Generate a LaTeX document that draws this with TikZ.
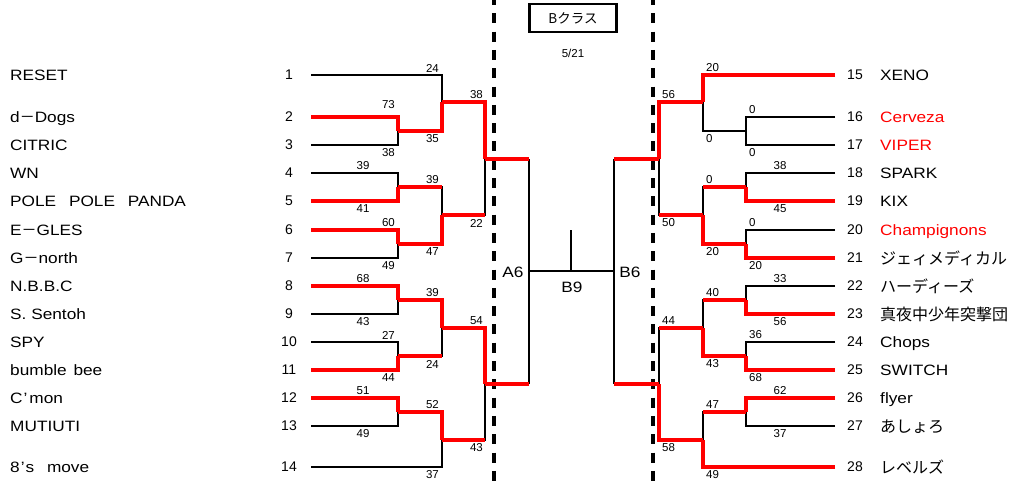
\documentclass[tikz,border=0pt]{standalone}
\usepackage{fontspec}
\setmainfont{Liberation Sans}
\newfontfamily\jpf{Noto Sans CJK JP}
\newfontfamily\nmf[FakeStretch=1.15]{Liberation Sans}
\definecolor{wred}{RGB}{255,0,0}
\tikzset{
  lose/.style={black, line width=2pt},
  win/.style={wred, line width=3.2pt, line cap=square},
  sc/.style={font=\fontsize{11.5}{11.5}\selectfont, inner sep=0pt},
  tnum/.style={font=\fontsize{14}{14}\selectfont, inner sep=0pt},
  tname/.style={font=\nmf\fontsize{15}{15}\selectfont, inner sep=0pt, anchor=west, text height=12pt, text depth=1pt},
  jname/.style={font=\jpf\fontsize{16}{16}\selectfont, inner sep=0pt, anchor=west, text height=13pt, text depth=1pt},
  dline/.style={line width=3.5pt, dash pattern=on 10pt off 8.3pt},
}
\begin{document}
\begin{tikzpicture}[x=1pt,y=-1pt]
\useasboundingbox (0,0) rectangle (1012,482);
\clip (0,0) rectangle (1012,482);
\fill[white] (0,0) rectangle (1012,482);

% dashed separators
\coordinate (dl1) at (494,-5); \coordinate (dl2) at (494,490);
\coordinate (dr1) at (653,-5); \coordinate (dr2) at (653,490);
\draw[dline] (dl1) -- (dl2);
\draw[dline] (dr1) -- (dr2);

% title
\node[draw, line width=2.2pt, minimum width=87pt, minimum height=28pt, inner sep=0pt,
      font=\jpf\fontsize{13.5}{13.5}\selectfont] (title) at (573,18) {Bクラス};
\node[sc] (date) at (573,53) {5/21};

% team line ends
\foreach \i/\y in {1/75,2/117,3/145,4/173,5/201,6/230,7/258,8/286,9/314,10/342,11/370,12/398,13/426,14/467}{
  \coordinate (t\i) at (311,\y);
  \node[tnum] (n\i) at (289,\y) {\i};
}
\foreach \i/\y in {15/75,16/117,17/145,18/173,19/201,20/230,21/258,22/286,23/314,24/342,25/370,26/398,27/426,28/467}{
  \coordinate (t\i) at (835,\y);
  \node[tnum] (n\i) at (855,\y) {\i};
}

% left names
\node[tname] (p1) at (10,75) {RESET};
\node[tname] (p2) at (10,117) {d{\jpf －}Dogs};
\node[tname] (p3) at (10,145) {CITRIC};
\node[tname] (p4) at (10,173) {WN};
\node[tname] (p5) at (10,201) {POLE\hspace{8pt} POLE\hspace{8pt} PANDA};
\node[tname] (p6) at (10,230) {E{\jpf －}GLES};
\node[tname] (p7) at (10,258) {G{\jpf －}north};
\node[tname] (p8) at (10,286) {N.B.B.C};
\node[tname] (p9) at (10,314) {S. Sentoh};
\node[tname] (p10) at (10,342) {SPY};
\node[tname] (p11) at (10,370) {bumble\hspace{2pt} bee};
\node[tname] (p12) at (10,398) {C\hspace{1pt}’\hspace{2pt}mon};
\node[tname] (p13) at (10,426) {MUTIUTI};
\node[tname] (p14) at (10,467) {8\hspace{1pt}’\hspace{1pt}s\hspace{8pt} move};

% right names
\node[tname] (p15) at (880,75) {XENO};
\node[tname, text=wred] (p16) at (880,117) {Cerveza};
\node[tname, text=wred] (p17) at (880,145) {VIPER};
\node[tname] (p18) at (880,173) {SPARK};
\node[tname] (p19) at (880,201) {KIX};
\node[tname, text=wred] (p20) at (880,230) {Champignons};
\node[jname] (p21) at (880,258) {ジェィメディカル};
\node[jname] (p22) at (880,286) {ハーディーズ};
\node[jname] (p23) at (880,314) {真夜中少年突撃団};
\node[tname] (p24) at (880,342) {Chops};
\node[tname] (p25) at (880,370) {SWITCH};
\node[tname] (p26) at (880,398) {flyer};
\node[jname] (p27) at (880,426) {あしょろ};
\node[jname] (p28) at (880,467) {レベルズ};

% match points left
\coordinate (m23) at (398,131);
\coordinate (m13) at (442,102);
\coordinate (m45) at (398,187);
\coordinate (m67) at (398,244);
\coordinate (m47) at (442,215);
\coordinate (mLt) at (485,159);
\coordinate (m89) at (398,300);
\coordinate (m1011) at (398,356);
\coordinate (m811) at (442,328);
\coordinate (m1213) at (398,412);
\coordinate (m1214) at (442,440);
\coordinate (mLb) at (485,384);
\coordinate (a6t) at (529,159);
\coordinate (a6b) at (529,384);
\coordinate (a6) at (529,271);
% match points right
\coordinate (m1617) at (746,131);
\coordinate (m15) at (703,102);
\coordinate (m1819) at (746,187);
\coordinate (m2021) at (746,244);
\coordinate (m1821) at (703,215);
\coordinate (mRt) at (659,159);
\coordinate (m2223) at (746,300);
\coordinate (m2425) at (746,356);
\coordinate (m2225) at (703,328);
\coordinate (m2627) at (746,412);
\coordinate (m2628) at (703,440);
\coordinate (mRb) at (659,384);
\coordinate (b6t) at (614,159);
\coordinate (b6b) at (614,384);
\coordinate (b6) at (614,271);
\coordinate (b9) at (571,271);
\coordinate (b9top) at (571,230);

% black lines
\draw[lose] (t1) -| (m13);
\draw[lose] (t3) -| (m23);
\draw[lose] (t4) -| (m45);
\draw[lose] (t7) -| (m67);
\draw[lose] (m45) -| (m47);
\draw[lose] (m47) -| (mLt);
\draw[lose] (t9) -| (m89);
\draw[lose] (t10) -| (m1011);
\draw[lose] (m1011) -| (m811);
\draw[lose] (t13) -| (m1213);
\draw[lose] (t14) -| (m1214);
\draw[lose] (m1214) -| (mLb);
\draw[lose] (a6t) -- (a6b);
\draw[lose] (t16) -| (m1617);
\draw[lose] (t17) -| (m1617);
\draw[lose] (m1617) -| (m15);
\draw[lose] (t18) -| (m1819);
\draw[lose] (t20) -| (m2021);
\draw[lose] (m1819) -| (m1821);
\draw[lose] (m1821) -| (mRt);
\draw[lose] (t22) -| (m2223);
\draw[lose] (t24) -| (m2425);
\draw[lose] (m2223) -| (m2225);
\draw[lose] (t27) -| (m2627);
\draw[lose] (m2627) -| (m2628);
\draw[lose] (m2225) -| (mRb);
\draw[lose] (b6t) -- (b6b);
\draw[lose] (a6) -- (b6);
\draw[lose] (b9) -- (b9top);

% red lines
\draw[win] (t2) -| (m23);
\draw[win] (m23) -| (m13);
\draw[win] (t5) -| (m45);
\draw[win] (m45) -- (m45 -| m47);
\draw[win] (t6) -| (m67);
\draw[win] (m67) -| (m47);
\draw[win] (m13) -| (mLt);
\draw[win] (m47) -- (m47 -| mLt);
\draw[win] (t8) -| (m89);
\draw[win] (t11) -| (m1011);
\draw[win] (m89) -| (m811);
\draw[win] (m1011) -- (m1011 -| m811);
\draw[win] (t12) -| (m1213);
\draw[win] (m1213) -| (m1214);
\draw[win] (m811) -| (mLb);
\draw[win] (m1214) -- (m1214 -| mLb);
\draw[win] (mLt) -- (a6t);
\draw[win] (mLb) -- (a6b);
\draw[win] (t15) -| (m15);
\draw[win] (m15) -| (mRt);
\draw[win] (t19) -| (m1819);
\draw[win] (m1819) -- (m1819 -| m1821);
\draw[win] (t21) -| (m2021);
\draw[win] (m2021) -| (m1821);
\draw[win] (m1821) -- (m1821 -| mRt);
\draw[win] (t23) -| (m2223);
\draw[win] (m2223) -- (m2223 -| m2225);
\draw[win] (t25) -| (m2425);
\draw[win] (m2425) -| (m2225);
\draw[win] (m2225) -- (m2225 -| mRb);
\draw[win] (t26) -| (m2627);
\draw[win] (m2627) -- (m2627 -| m2628);
\draw[win] (t28) -| (m2628);
\draw[win] (m2628) -| (mRb);
\draw[win] (mRt) -- (b6t);
\draw[win] (mRb) -- (b6b);

% final labels
\node[tname, anchor=center] (la6) at (513,272) {A6};
\node[tname, anchor=center] (lb6) at (630,272) {B6};
\node[tname, anchor=center] (lb9) at (572,287) {B9};

% scores left
\node[sc, anchor=east] at (395,105) {73};
\node[sc, anchor=east] at (395,153) {38};
\node[sc, anchor=east] at (439,68) {24};
\node[sc, anchor=east] at (439,139) {35};
\node[sc] at (363,166) {39};
\node[sc] at (363,209) {41};
\node[sc, anchor=east] at (439,180) {39};
\node[sc, anchor=east] at (395,223) {60};
\node[sc, anchor=east] at (395,266) {49};
\node[sc, anchor=east] at (439,252) {47};
\node[sc, anchor=east] at (483,95) {38};
\node[sc, anchor=east] at (483,223) {22};
\node[sc] at (363,279) {68};
\node[sc] at (363,322) {43};
\node[sc, anchor=east] at (439,293) {39};
\node[sc, anchor=east] at (395,335) {27};
\node[sc, anchor=east] at (395,378) {44};
\node[sc, anchor=east] at (439,364) {24};
\node[sc, anchor=east] at (483,321) {54};
\node[sc] at (363,391) {51};
\node[sc] at (363,434) {49};
\node[sc, anchor=east] at (439,405) {52};
\node[sc, anchor=east] at (439,475) {37};
\node[sc, anchor=east] at (483,448) {43};

% scores right
\node[sc, anchor=west] at (706,68) {20};
\node[sc, anchor=west] at (706,139) {0};
\node[sc, anchor=west] at (749,110) {0};
\node[sc, anchor=west] at (749,153) {0};
\node[sc, anchor=west] at (662,95) {56};
\node[sc, anchor=west] at (662,223) {50};
\node[sc] at (780,166) {38};
\node[sc] at (780,209) {45};
\node[sc, anchor=west] at (706,180) {0};
\node[sc, anchor=west] at (706,252) {20};
\node[sc, anchor=west] at (749,223) {0};
\node[sc, anchor=west] at (749,266) {20};
\node[sc] at (780,279) {33};
\node[sc] at (780,322) {56};
\node[sc, anchor=west] at (706,293) {40};
\node[sc, anchor=west] at (706,364) {43};
\node[sc, anchor=west] at (749,335) {36};
\node[sc, anchor=west] at (749,378) {68};
\node[sc, anchor=west] at (662,321) {44};
\node[sc, anchor=west] at (662,448) {58};
\node[sc] at (780,391) {62};
\node[sc] at (780,434) {37};
\node[sc, anchor=west] at (706,405) {47};
\node[sc, anchor=west] at (706,475) {49};
\end{tikzpicture}
\end{document}
